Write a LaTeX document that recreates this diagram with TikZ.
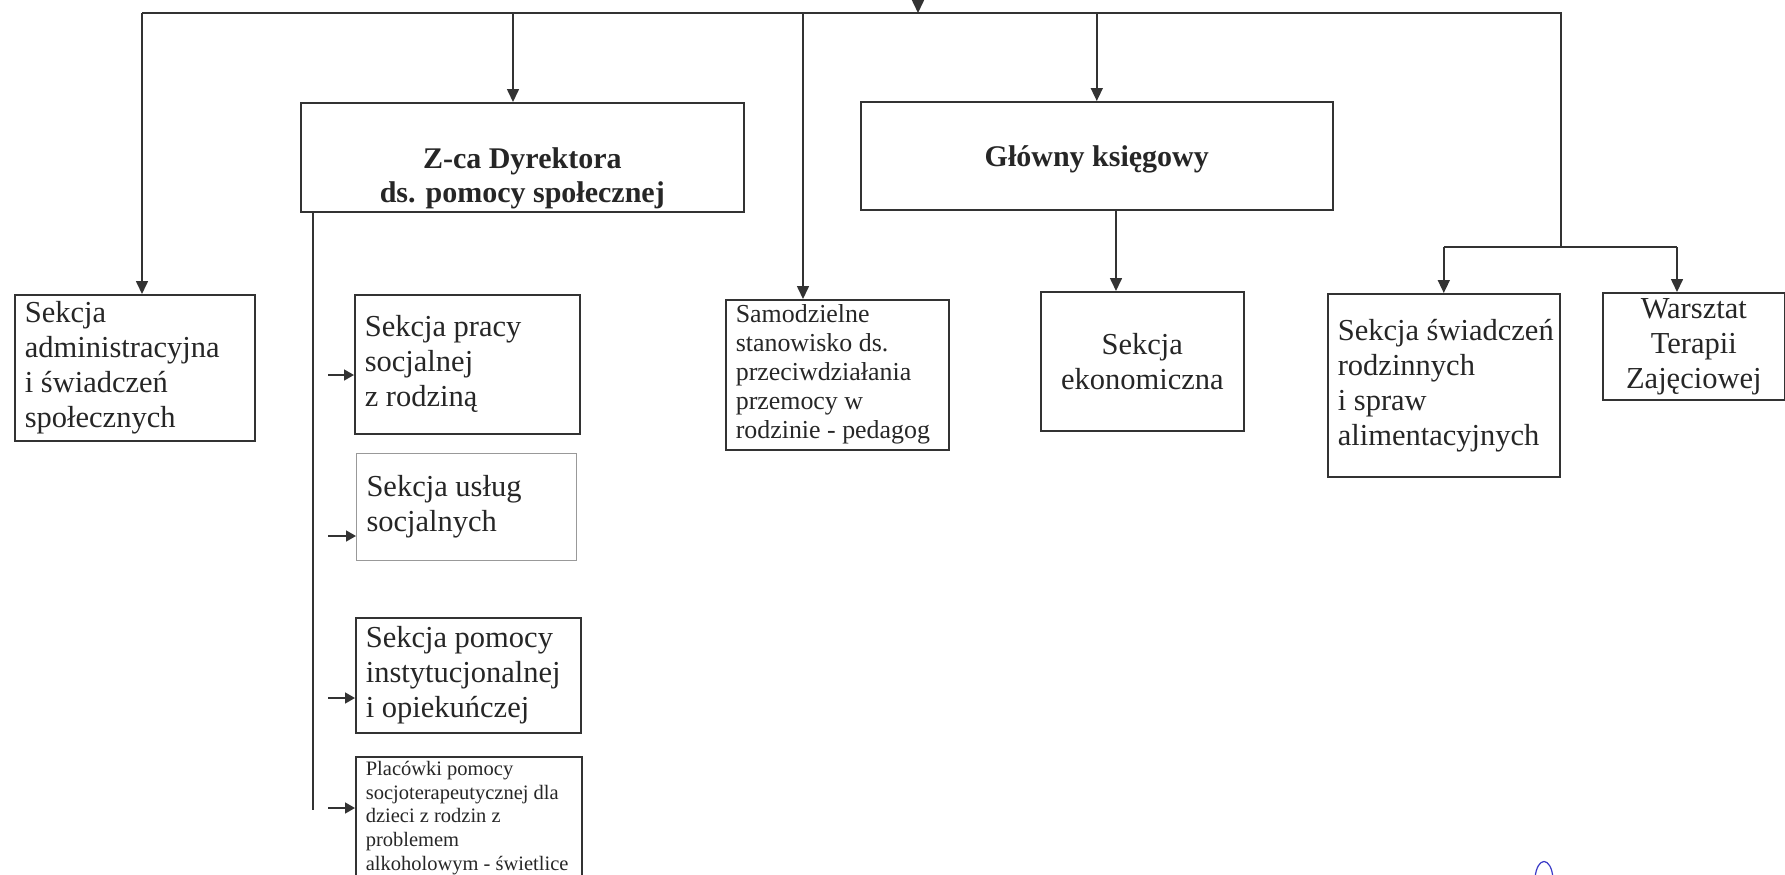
\documentclass[tikz,border=0pt]{standalone}
\usepackage{fontspec}
\setmainfont{Liberation Serif}
\usetikzlibrary{arrows.meta}
\hyphenpenalty=10000
\exhyphenpenalty=10000

\begin{document}
\begin{tikzpicture}[x=0.5pt,y=-0.5pt,line width=0.8pt,color=black!80,
    arr/.style={-{Triangle[width=6pt,length=6.5pt]}},
    harr/.style={-{Triangle[width=5.5pt,length=5pt]}},
    unit/.style={draw,rectangle,anchor=north west,inner sep=0pt,inner xsep=5pt,
        align=flush left,text=black!85,font=\fontsize{15.25pt}{17.5pt}\selectfont},
    midunit/.style={unit,align=center},
    bossfont/.style={text=black!85,inner sep=0pt,align=center,
        font=\bfseries\fontsize{15pt}{17pt}\selectfont},
    boss/.style={draw,rectangle,anchor=north west,bossfont},
    smallfont/.style={font=\fontsize{12.95pt}{14.5pt}\selectfont},
    minifont/.style={font=\fontsize{10.25pt}{11.85pt}\selectfont}]
\useasboundingbox (0,0) rectangle (1785,874);
\clip (0,0) rectangle (1785,874);

% top level
\node[boss,minimum width=221.5pt,minimum height=54.5pt] (zca) at (300,102) {};
\node[bossfont,anchor=south] (zcaT) at ([yshift=1.5pt]zca.south) {Z-ca Dyrektora\\ds. pomocy społecznej};
\node[boss,minimum width=236pt,minimum height=54pt,text depth=0pt] (glow) at (860,101) {Główny księgowy};

% second row
\node[unit,text width=110pt,minimum height=73pt] (adm) at (14,294) {Sekcja\\administracyjna\\i świadczeń\\społecznych};
\node[unit,smallfont,text width=101.5pt,minimum height=75pt] (samo) at (725,299) {Samodzielne\\stanowisko ds.\\przeciwdziałania\\przemocy w\\rodzinie - pedagog};
\node[midunit,minimum width=101.5pt,minimum height=69.5pt] (ekon) at (1040,291) {Sekcja\\ekonomiczna};
\node[unit,text width=106pt,minimum height=91.5pt] (swiad) at (1327,293) {\mbox{Sekcja świadczeń}\\rodzinnych\\i spraw\\alimentacyjnych};
\node[midunit,minimum width=91pt,minimum height=53.5pt] (warsz) at (1602,292) {Warsztat\\Terapii\\Zajęciowej};

% sections under Z-ca
\node[unit,text width=102.5pt,minimum height=69.5pt] (pracy) at (354,294) {Sekcja pracy\\socjalnej\\z rodziną};
\node[unit,draw=black!40,line width=0.5pt,text width=100pt,minimum height=53.5pt] (uslug) at (356,453) {Sekcja usług\\socjalnych};
\node[unit,text width=102.5pt,minimum height=57.5pt] (pomoc) at (355,617) {Sekcja pomocy\\instytucjonalnej\\i opiekuńczej};
\node[unit,minifont,text width=103pt,minimum height=61pt] (placow) at (355,756) {Placówki pomocy\\socjoterapeutycznej dla\\dzieci z rodzin z\\problemem\\\mbox{alkoholowym - świetlice}};

% links
\coordinate (in) at (918,-10);
\coordinate (busL) at (142,13);
\coordinate (busR) at (1561,13);
\coordinate (fork) at (1561,247);
\coordinate (zbus) at (313,810);
\draw[arr] (in) -- (in |- busL);
\draw (busL) -- (busR) -- (fork);
\draw[arr] (busL) -- (busL |- adm.north);
\draw[arr] (513,13) -- (513,13 |- zca.north);
\draw[arr] (803,13) -- (803,13 |- samo.north);
\draw[arr] (glow.north |- busL) -- (glow.north);
\draw[arr] (1116,0 |- glow.south) -- (1116,0 |- ekon.north);
\draw (fork -| swiad.north) -- (1677,247);
\draw[arr] (fork -| swiad.north) -- (swiad.north);
\draw[arr] (1677,247) -- (1677,0 |- warsz.north);
\draw (zbus |- zca.south) -- (zbus);
\foreach \target/\yy in {pracy/375,uslug/536,pomoc/698,placow/808}
    \draw[harr] (328,\yy) -- (328,\yy -| \target.west);

% scribble
\draw[blue!55!gray,line width=0.6pt] (1535,878) .. controls (1537,856) and (1551,856) .. (1553,878);
\end{tikzpicture}
\end{document}
